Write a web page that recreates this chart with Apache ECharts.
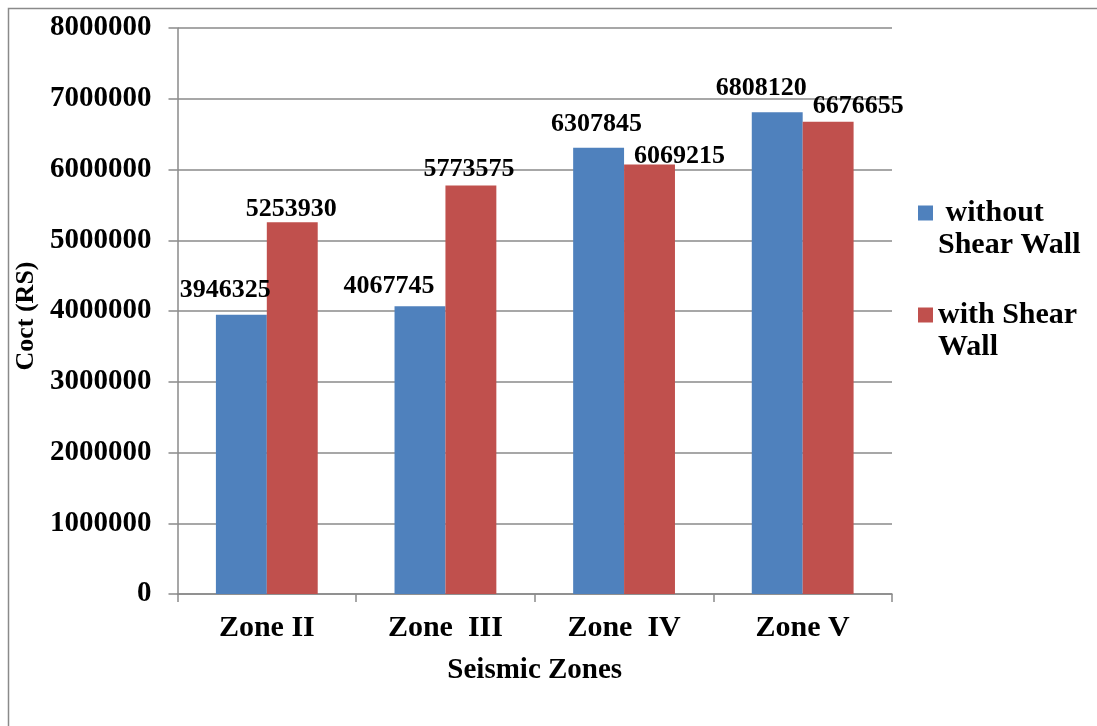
<!DOCTYPE html>
<html>
<head>
<meta charset="utf-8">
<script src="https://cdn.jsdelivr.net/npm/echarts@6/dist/echarts.min.js"></script>
<style>
  html, body { margin: 0; padding: 0; background: #fff; }
  #chart { width: 1097px; height: 726px; }
</style>
</head>
<body>
<div id="chart"></div>
<script>
// ---- data ----
const categories = ['Zone II', 'Zone  III', 'Zone  IV', 'Zone V'];
const seriesNames = [' without\nShear Wall', 'with Shear\nWall'];
const withoutShearWall = [3946325, 4067745, 6307845, 6808120];
const withShearWall = [5253930, 5773575, 6069215, 6676655];
const yMin = 0, yMax = 8000000, yInterval = 1000000;
const xAxisTitle = 'Seismic Zones';
const yAxisTitle = 'Coct (RS)';

// ---- style ----
const FONT = '"Liberation Serif", "Times New Roman", serif';
const GRID_COLOR = '#8a8a8a';
const colors = ['#4F81BD', '#C0504D'];
// label nudges (style only) per data point
const labelNudges = [
  [[-16, -12], [-31, -7], [-2, -10], [-16, -11]],
  [[-1, 0], [-2, -3], [30, 5], [30, -2]]
];

function buildSeries(name, values, idx) {
  return {
    name: name,
    type: 'bar',
    barGap: '0%',
    barCategoryGap: '43%',
    itemStyle: { color: colors[idx] },
    data: values.map((v, i) => ({
      value: v,
      label: { offset: labelNudges[idx][i] }
    })),
    label: {
      show: true,
      position: 'top',
      distance: 0,
      color: '#000',
      fontFamily: FONT,
      fontWeight: 'bold',
      fontSize: 26
    }
  };
}

const chart = echarts.init(document.getElementById('chart'), null, { renderer: 'canvas' });
chart.setOption({
  animation: false,
  backgroundColor: '#fff',
  graphic: [{
    type: 'rect',
    silent: true,
    shape: { x: 8.5, y: 8.5, width: 2000, height: 2000 },
    style: { fill: 'none', stroke: GRID_COLOR, lineWidth: 1.5 }
  }],
  grid: { left: 177.5, right: 205, top: 28, bottom: 132, containLabel: false },
  legend: {
    orient: 'vertical',
    left: 918,
    top: 165,
    padding: 0,
    itemWidth: 15,
    itemHeight: 15,
    itemGap: 6,
    icon: 'rect',
    data: seriesNames,
    formatter: name => '\n' + name,
    textStyle: {
      fontFamily: FONT,
      fontWeight: 'bold',
      fontSize: 30,
      lineHeight: 32,
      color: '#000'
    }
  },
  xAxis: {
    type: 'category',
    data: categories,
    name: xAxisTitle,
    nameLocation: 'middle',
    nameGap: 62,
    nameTextStyle: { fontFamily: FONT, fontWeight: 'bold', fontSize: 29, color: '#000' },
    axisLine: { lineStyle: { color: GRID_COLOR, width: 1.5 } },
    axisTick: { show: true, length: 8, lineStyle: { color: GRID_COLOR, width: 1.5 } },
    axisLabel: { fontFamily: FONT, fontWeight: 'bold', fontSize: 30, color: '#000', margin: 19 }
  },
  yAxis: {
    type: 'value',
    min: yMin,
    max: yMax,
    interval: yInterval,
    name: yAxisTitle,
    nameLocation: 'middle',
    nameGap: 112,
    nameTextStyle: { fontFamily: FONT, fontWeight: 'bold', fontSize: 26, color: '#000', padding: [0, 10, 0, 0] },
    axisLine: { show: true, lineStyle: { color: GRID_COLOR, width: 1.5 } },
    axisTick: { show: true, length: 9, lineStyle: { color: GRID_COLOR, width: 1.5 } },
    axisLabel: {
      fontFamily: FONT, fontWeight: 'bold', fontSize: 29, color: '#000', margin: 26,
      formatter: v => String(v)
    },
    splitLine: { lineStyle: { color: GRID_COLOR, width: 1.5 } }
  },
  series: [
    buildSeries(seriesNames[0], withoutShearWall, 0),
    buildSeries(seriesNames[1], withShearWall, 1)
  ]
});
</script>
</body>
</html>
